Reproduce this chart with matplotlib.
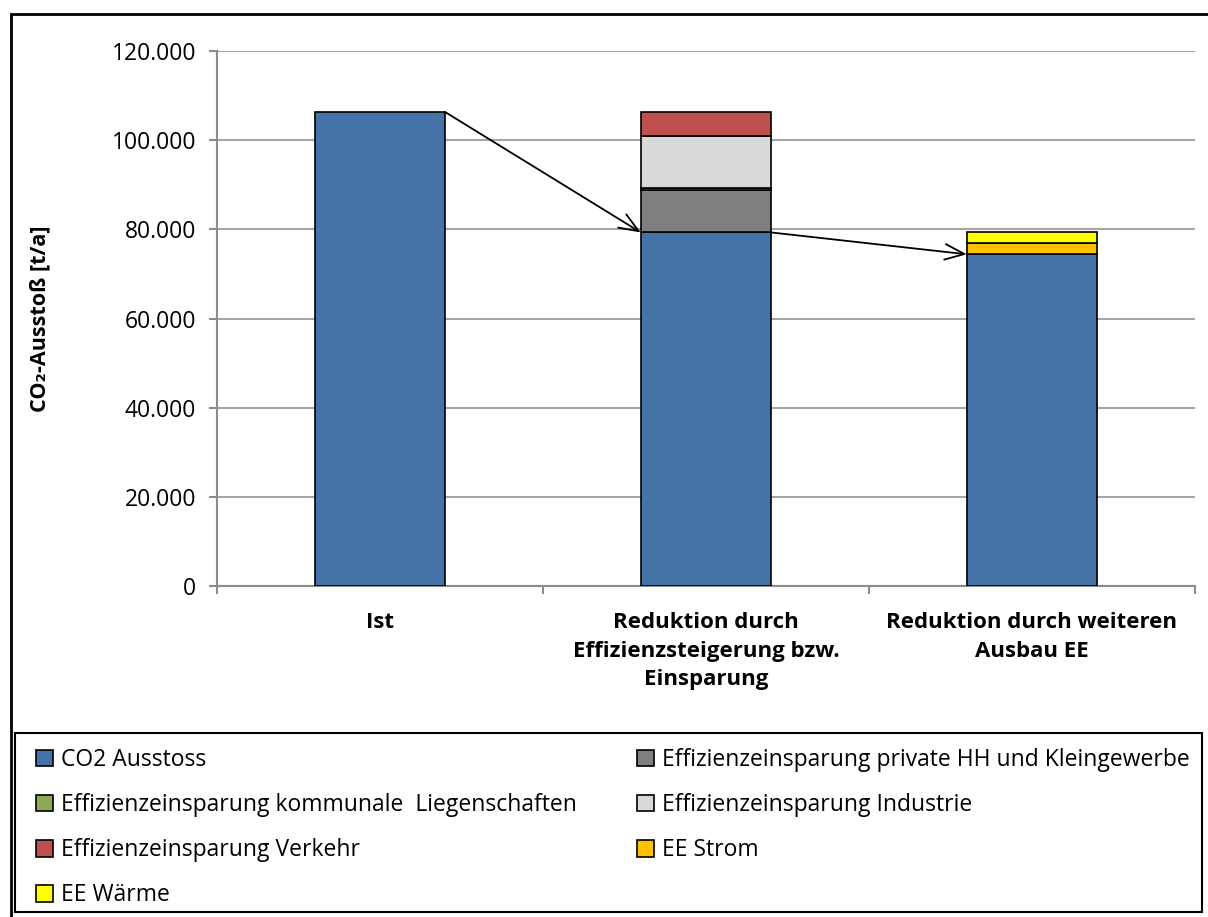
import matplotlib.pyplot as plt
from matplotlib.patches import Rectangle, Patch
from matplotlib.ticker import FuncFormatter, FixedLocator
import numpy as np

plt.rcParams['font.family'] = ['Open Sans', 'DejaVu Sans']

categories = ["Ist",
              "Reduktion durch\nEffizienzsteigerung bzw.\nEinsparung",
              "Reduktion durch weiteren\nAusbau EE"]

series_names = ["CO2 Ausstoss",
                "Effizienzeinsparung private HH und Kleingewerbe",
                "Effizienzeinsparung kommunale  Liegenschaften",
                "Effizienzeinsparung Industrie",
                "Effizienzeinsparung Verkehr",
                "EE Strom",
                "EE Wärme"]
co2 = [106300, 79300, 74400]
private_hh = [0, 9500, 0]
kommunal = [0, 400, 0]
industrie = [0, 11700, 0]
verkehr = [0, 5400, 0]
ee_strom = [0, 0, 2600]
ee_waerme = [0, 0, 2400]
colors = ["#4572A7", "#7F7F7F", "#8DAA55", "#D9D9D9", "#C0504D", "#FFC000", "#FFFF00"]

values = [co2, private_hh, kommunal, industrie, verkehr, ee_strom, ee_waerme]

fig = plt.figure(figsize=(12.08, 9.17), dpi=100)
ax = fig.add_axes([217 / 1208, 1 - 586 / 917, (1195 - 217) / 1208, (586 - 51) / 917])

x = np.arange(len(categories))
width = 0.4
bottom = np.zeros(len(categories))
handles = []
for name, vals, col in zip(series_names, values, colors):
    vals = np.array(vals, dtype=float)
    mask = vals > 0
    ax.bar(x[mask], vals[mask], width, bottom=bottom[mask], color=col,
           edgecolor="black", linewidth=1.2, zorder=3)
    bottom += vals
    handles.append(Patch(facecolor=col, edgecolor="black", linewidth=1.2, label=name))

# arrows between the bars
arrow_style = dict(arrowstyle="->, head_length=0.5, head_width=0.2", color="black", lw=1.3,
                   mutation_scale=28, shrinkA=0, shrinkB=0)
ax.annotate("", xy=(1 - width / 2, co2[1]), xytext=(0 + width / 2, co2[0]),
            arrowprops=arrow_style, zorder=4)
ax.annotate("", xy=(2 - width / 2, co2[2]), xytext=(1 + width / 2, co2[1]),
            arrowprops=arrow_style, zorder=4)

ax.set_xlim(-0.5, 2.5)
ax.set_ylim(0, 120000)
ax.yaxis.set_major_locator(FixedLocator(np.arange(0, 120001, 20000)))
ax.yaxis.set_major_formatter(FuncFormatter(lambda v, p: f"{int(v):,}".replace(",", ".")))
ax.grid(axis="y", color="#A6A6A6", linewidth=1.5, zorder=0)
ax.set_axisbelow(True)

ax.set_xticks(x)
ax.set_xticklabels(categories, fontsize=16, fontweight="bold", linespacing=1.45, va="top")
ax.set_xticks([-0.5, 0.5, 1.5, 2.5], minor=True)
ax.tick_params(axis="x", which="major", length=0, pad=19)
ax.tick_params(axis="x", which="minor", length=6, color="#8C8C8C", width=1.5)
ax.tick_params(axis="y", length=6, color="#8C8C8C", width=1.5, labelsize=16.5, pad=9)

for s in ["top", "right"]:
    ax.spines[s].set_visible(False)
for s in ["left", "bottom"]:
    ax.spines[s].set_color("#8C8C8C")
    ax.spines[s].set_linewidth(1.5)

fig.text(40 / 1208, 1 - 319 / 917, "CO₂-Ausstoß [t/a]", rotation=90, ha="center", va="center",
         fontsize=15.5, fontweight="bold")

# legend: two columns placed by hand, rows read left to right
col1 = [0, 2, 4, 6]
col2 = [1, 3, 5]
leg_kw = dict(loc="upper left", fontsize=16.5, frameon=False,
              handlelength=0.75, handleheight=0.75, handletextpad=0.35,
              labelspacing=0.92, borderpad=0, borderaxespad=0)
for idx, xpos in [(col1, 36), (col2, 637)]:
    fig.legend([handles[i] for i in idx], [series_names[i] for i in idx],
               bbox_to_anchor=(xpos / 1208, 1 - 748 / 917), **leg_kw)

fig.patches.append(Rectangle((15 / 1208, 1 - 912 / 917), (1202 - 15) / 1208, (912 - 733) / 917,
                             transform=fig.transFigure, fill=False, edgecolor="black", linewidth=1.5))

# outer chart frame
fig.patches.append(Rectangle((11 / 1208, -0.1), 1.2, 1.1 - 14 / 917, transform=fig.transFigure,
                             fill=False, edgecolor="black", linewidth=2))

fig.savefig("out.png", dpi=100)
